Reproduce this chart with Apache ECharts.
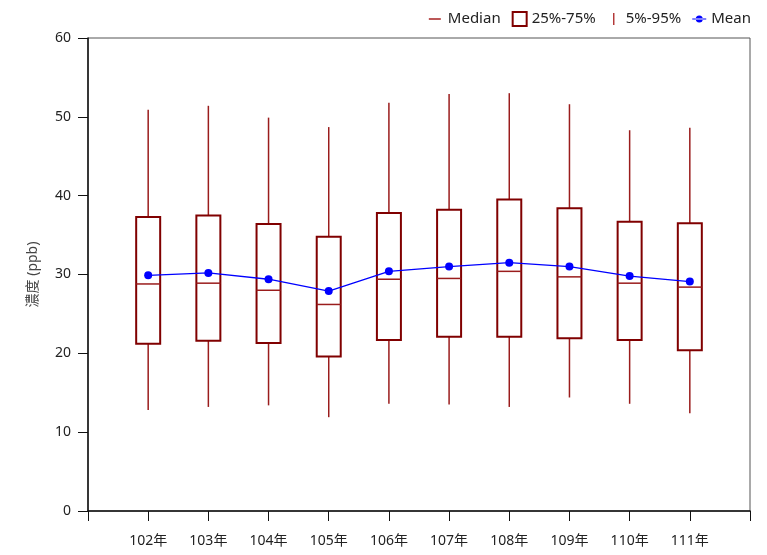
<!DOCTYPE html>
<html>
<head>
<meta charset="utf-8">
<script src="https://cdn.jsdelivr.net/npm/echarts@6/dist/echarts.min.js"></script>
<style>
  html, body { margin: 0; padding: 0; background: #fff; }
  #chart { width: 767px; height: 555px; }
</style>
</head>
<body>
<div id="chart"></div>
<script>
// 年份 (民國)
const years = [102, 103, 104, 105, 106, 107, 108, 109, 110, 111];
// 5% / 25% / 中位數 / 75% / 95%
const p5 = [12.8, 13.2, 13.4, 11.9, 13.6, 13.5, 13.2, 14.4, 13.6, 12.4];
const q1 = [21.2, 21.6, 21.3, 19.6, 21.7, 22.1, 22.1, 21.9, 21.7, 20.4];
const median = [28.8, 28.9, 28.0, 26.2, 29.4, 29.5, 30.4, 29.7, 28.9, 28.4];
const q3 = [37.3, 37.5, 36.4, 34.8, 37.8, 38.2, 39.5, 38.4, 36.7, 36.5];
const p95 = [50.9, 51.4, 49.9, 48.7, 51.8, 52.9, 53.0, 51.6, 48.3, 48.6];
const mean = [29.9, 30.2, 29.4, 27.9, 30.4, 31.0, 31.5, 31.0, 29.8, 29.1];

const yTicks = [0, 10, 20, 30, 40, 50, 60];

const darkRed = "#800000";
const font = "'Noto Sans', 'Noto Sans CJK TC', sans-serif";
const boxW = 24;

const rows = years.map((y, i) => [y, p5[i], q1[i], median[i], q3[i], p95[i]]);

var chartDom = document.getElementById("chart");
var myChart = echarts.init(chartDom);

var option = {
  animation: false,
  textStyle: { fontFamily: font },
  legend: {
    top: 6,
    right: 11,
    itemWidth: 14,
    itemHeight: 14,
    itemGap: 11,
    textStyle: { fontSize: 15, color: "#222", fontFamily: font },
    data: [
      { name: "Median", icon: "path://M0,0M14,14M0,6.3h12v1.4h-12z", itemStyle: { color: "#a01010" } },
      { name: "25%-75%", icon: "rect", itemStyle: { color: "#fff", borderColor: darkRed, borderWidth: 2 } },
      { name: "5%-95%", icon: "path://M0,0M14,14M6.3,1h1.4v12h-1.4z", itemStyle: { color: "#b03030" } },
      { name: "Mean", icon: "path://M0,0M14,14M0,6.4h14v1.2h-14zM7,3.5a3.5,3.5 0 1,0 0.01,0z" },
    ],
  },
  grid: {
    left: 88,
    right: 17,
    top: 38,
    bottom: 44,
    show: true,
    borderColor: "#555",
    borderWidth: 1,
  },
  xAxis: {
    type: "value",
    min: 101,
    max: 112,
    interval: 1,
    splitLine: { show: false },
    axisLine: { show: true, lineStyle: { color: "#111", width: 1.5 } },
    axisTick: { show: true, length: 10, lineStyle: { color: "#111", width: 1 } },
    axisLabel: {
      margin: 23,
      fontSize: 14,
      color: "#222",
      fontFamily: font,
      formatter: function (v) {
        return years.indexOf(v) >= 0 ? v + "年" : "";
      },
    },
  },
  yAxis: {
    type: "value",
    min: yTicks[0],
    max: yTicks[yTicks.length - 1],
    interval: 10,
    name: "濃度 (ppb)",
    nameLocation: "middle",
    nameGap: 48,
    nameTextStyle: { fontSize: 14, color: "#444", fontFamily: font },
    splitLine: { show: false },
    axisLine: { show: true, lineStyle: { color: "#111", width: 1.5 } },
    axisTick: { show: true, length: 10, lineStyle: { color: "#111", width: 1 } },
    axisLabel: { margin: 17, fontSize: 14, color: "#222", fontFamily: font },
  },
  series: [
    {
      name: "5%-95%",
      type: "custom",
      itemStyle: { color: "#b03030" },
      data: rows,
      encode: { x: 0, y: [1, 5] },
      renderItem: function (params, api) {
        const x = api.value(0);
        const lo = api.coord([x, api.value(1)]);
        const b = api.coord([x, api.value(2)]);
        const t = api.coord([x, api.value(4)]);
        const hi = api.coord([x, api.value(5)]);
        const st = { stroke: "#9a1c1c", lineWidth: 1.5 };
        return {
          type: "group",
          children: [
            { type: "line", shape: { x1: lo[0], y1: lo[1], x2: b[0], y2: b[1] }, style: st },
            { type: "line", shape: { x1: t[0], y1: t[1], x2: hi[0], y2: hi[1] }, style: st },
          ],
        };
      },
    },
    {
      name: "25%-75%",
      type: "custom",
      itemStyle: { color: darkRed },
      data: rows,
      encode: { x: 0, y: [2, 4] },
      renderItem: function (params, api) {
        const x = api.value(0);
        const b = api.coord([x, api.value(2)]);
        const t = api.coord([x, api.value(4)]);
        return {
          type: "rect",
          shape: { x: b[0] - boxW / 2, y: t[1], width: boxW, height: b[1] - t[1] },
          style: { fill: "#fff", stroke: darkRed, lineWidth: 2 },
        };
      },
    },
    {
      name: "Median",
      type: "custom",
      itemStyle: { color: "#a01010" },
      data: rows,
      encode: { x: 0, y: 3 },
      renderItem: function (params, api) {
        const x = api.value(0);
        const m = api.coord([x, api.value(3)]);
        return {
          type: "line",
          shape: { x1: m[0] - boxW / 2, y1: m[1], x2: m[0] + boxW / 2, y2: m[1] },
          style: { stroke: "#9a1c1c", lineWidth: 1.5 },
        };
      },
    },
    {
      name: "Mean",
      type: "line",
      data: years.map((y, i) => [y, mean[i]]),
      color: "#0000ff",
      symbol: "circle",
      symbolSize: 8,
      lineStyle: { color: "#0000ff", width: 1.3 },
      itemStyle: { color: "#0000ff" },
      z: 5,
    },
  ],
};

option && myChart.setOption(option, true);
</script>
</body>
</html>
